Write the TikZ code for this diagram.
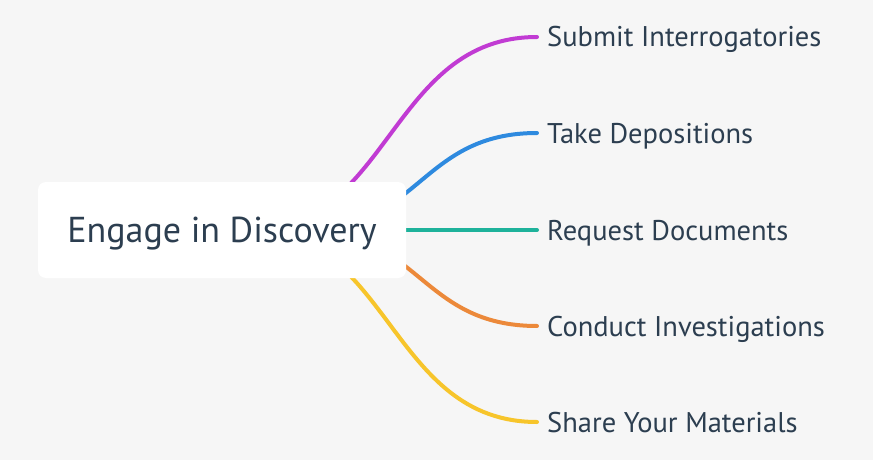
\documentclass[tikz,border=0pt]{standalone}
\usepackage{fontspec}
\setmainfont{PT Sans}
\usetikzlibrary{calc}
\pgfdeclarelayer{bg}
\pgfdeclarelayer{edges}
\pgfsetlayers{bg,edges,main}
\definecolor{bgc}{HTML}{F6F6F6}
\definecolor{txt}{HTML}{2C3E50}
\definecolor{cpurple}{HTML}{C13BD3}
\definecolor{cblue}{HTML}{2E8ADF}
\definecolor{cteal}{HTML}{1EB29B}
\definecolor{corange}{HTML}{EC893A}
\definecolor{cyellow}{HTML}{F7C52B}
\begin{document}
\begin{tikzpicture}[x=1pt,y=-1pt,
  rootbox/.style={draw=none, fill=white, rounded corners=8pt, minimum width=368pt, minimum height=96pt, inner sep=0pt, text=txt, text height=25pt, text depth=0pt, font=\fontsize{36}{42}\selectfont},
  leaf/.style={anchor=west, inner xsep=10pt, inner ysep=0pt, text height=20pt, text depth=0pt, text=txt, font=\fontsize{28.5}{34}\selectfont},
  edge/.style={line width=4pt, line cap=round}]
\useasboundingbox (0,0) rectangle (873,460);
\begin{pgfonlayer}{bg}
\fill[bgc] (0,0) rectangle (873,460);
\end{pgfonlayer}
\node[rootbox] (root) at (222,230) {Engage in Discovery};
\node[leaf] (l1) at (537,37) {Submit Interrogatories};
\node[leaf] (l2) at (537,133) {Take Depositions};
\node[leaf] (l3) at (537,230) {Request Documents};
\node[leaf] (l4) at (537,326) {Conduct Investigations};
\node[leaf] (l5) at (537,422) {Share Your Materials};
\coordinate (s1) at (250,230);
\coordinate (s2) at (303,230);
\coordinate (s3) at (300,230);
\begin{pgfonlayer}{edges}
\draw[edge, cpurple] (s1) .. controls +(140,0) and +(-147,0) .. (l1.west);
\draw[edge, cblue] (s2) .. controls +(117,0) and +(-117,0) .. (l2.west);
\draw[edge, cteal] (s3) -- (l3.west);
\draw[edge, corange] (s2) .. controls +(117,0) and +(-117,0) .. (l4.west);
\draw[edge, cyellow] (s1) .. controls +(140,0) and +(-147,0) .. (l5.west);
\end{pgfonlayer}
\end{tikzpicture}
\end{document}
